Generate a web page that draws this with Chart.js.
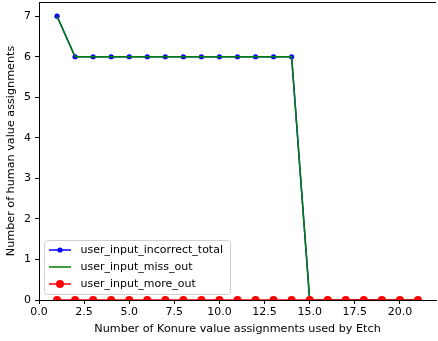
<!DOCTYPE html>
<html>
<head>
<meta charset="utf-8">
<script src="https://cdn.jsdelivr.net/npm/chart.js@4/dist/chart.umd.min.js"></script>
<style>
  html, body { margin: 0; padding: 0; background: #fff; overflow: hidden; }
  #wrap { width: 440px; height: 343px; margin-top: -2px; position: relative; }
</style>
</head>
<body>
<div id="wrap"><canvas id="c"></canvas></div>
<script>
// Number of Konure value assignments used by Etch
const etchCounts = [1, 2, 3, 4, 5, 6, 7, 8, 9, 10, 11, 12, 13, 14, 15, 16, 17, 18, 19, 20, 21];
// Number of human value assignments per category
const incorrectTotal = [7, 6, 6, 6, 6, 6, 6, 6, 6, 6, 6, 6, 6, 6, 0, 0, 0, 0, 0, 0, 0];
const missOut        = [7, 6, 6, 6, 6, 6, 6, 6, 6, 6, 6, 6, 6, 6, 0, 0, 0, 0, 0, 0, 0];
const moreOut        = [0, 0, 0, 0, 0, 0, 0, 0, 0, 0, 0, 0, 0, 0, 0, 0, 0, 0, 0, 0, 0];
const xTickValues = [0, 2.5, 5, 7.5, 10, 12.5, 15, 17.5, 20];
const yTickValues = [0, 1, 2, 3, 4, 5, 6, 7];

const FONT = "'DejaVu Sans', sans-serif";
const toPoints = (ys) => etchCounts.map((x, i) => ({ x: x, y: ys[i] }));

// Top spine and the in-plot legend box
const frameAndLegend = {
  id: 'frameAndLegend',
  afterDraw(chart) {
    const ctx = chart.ctx;
    const a = chart.chartArea;
    ctx.save();
    ctx.strokeStyle = '#000';
    ctx.lineWidth = 1;
    ctx.beginPath();
    ctx.moveTo(a.left, Math.round(a.top) + 0.5);
    ctx.lineTo(a.right, Math.round(a.top) + 0.5);
    ctx.stroke();

    // legend (canvas is shifted up by 2px inside the page)
    const bx = 44.5, by = 242.5, bw = 186, bh = 54, r = 3;
    ctx.fillStyle = 'rgba(255,255,255,0.8)';
    ctx.strokeStyle = '#d0d0d0';
    ctx.beginPath();
    ctx.moveTo(bx + r, by);
    ctx.lineTo(bx + bw - r, by);
    ctx.arcTo(bx + bw, by, bx + bw, by + r, r);
    ctx.lineTo(bx + bw, by + bh - r);
    ctx.arcTo(bx + bw, by + bh, bx + bw - r, by + bh, r);
    ctx.lineTo(bx + r, by + bh);
    ctx.arcTo(bx, by + bh, bx, by + bh - r, r);
    ctx.lineTo(bx, by + r);
    ctx.arcTo(bx, by, bx + r, by, r);
    ctx.closePath();
    ctx.fill();
    ctx.stroke();

    const rows = [252, 269, 286];
    chart.data.datasets.forEach((ds, i) => {
      const y = rows[i];
      ctx.strokeStyle = ds.borderColor;
      ctx.lineWidth = 1.5;
      ctx.beginPath();
      ctx.moveTo(49, y);
      ctx.lineTo(71, y);
      ctx.stroke();
      if (ds.pointRadius > 0) {
        ctx.fillStyle = ds.pointBackgroundColor;
        ctx.beginPath();
        ctx.arc(60, y, ds.pointRadius, 0, Math.PI * 2);
        ctx.fill();
      }
      ctx.fillStyle = '#000';
      ctx.font = '11px ' + FONT;
      ctx.textBaseline = 'middle';
      ctx.textAlign = 'left';
      ctx.fillText(ds.label, 80.5, y);
    });
    ctx.restore();
  }
};

new Chart(document.getElementById('c'), {
  type: 'line',
  data: {
    datasets: [
      {
        label: 'user_input_incorrect_total',
        data: toPoints(incorrectTotal),
        borderColor: '#0000ff',
        backgroundColor: '#0000ff',
        pointBackgroundColor: '#0000ff',
        pointBorderWidth: 0,
        pointRadius: 2.6,
        borderWidth: 1.5,
        tension: 0,
        order: 3
      },
      {
        label: 'user_input_miss_out',
        data: toPoints(missOut),
        borderColor: '#008000',
        backgroundColor: '#008000',
        pointBackgroundColor: '#008000',
        pointRadius: 0,
        borderWidth: 1.5,
        tension: 0,
        order: 2
      },
      {
        label: 'user_input_more_out',
        data: toPoints(moreOut),
        borderColor: '#ff0000',
        backgroundColor: '#ff0000',
        pointBackgroundColor: '#ff0000',
        pointBorderWidth: 0,
        pointRadius: 4,
        borderWidth: 1.5,
        tension: 0,
        order: 1
      }
    ]
  },
  options: {
    responsive: true,
    maintainAspectRatio: false,
    animation: false,
    devicePixelRatio: 1,
    layout: { padding: { top: 1, right: 0, left: 0, bottom: 0 } },
    plugins: { legend: { display: false }, tooltip: { enabled: false } },
    elements: { point: { hoverRadius: 0 } },
    scales: {
      x: {
        type: 'linear',
        min: 0,
        max: 22,
        afterBuildTicks(scale) { scale.ticks = xTickValues.map(v => ({ value: v })); },
        afterFit(scale) { scale.height = 41; scale.paddingLeft = 0; scale.paddingRight = 0; },
        border: { display: true, color: '#000', width: 1 },
        grid: { drawOnChartArea: false, drawTicks: true, tickLength: 4, color: '#000' },
        ticks: {
          autoSkip: false,
          maxRotation: 0,
          padding: 2,
          color: '#000',
          font: { family: FONT, size: 11 },
          callback: (v) => Number(v).toFixed(1)
        },
        title: {
          display: true,
          text: 'Number of Konure value assignments used by Etch',
          color: '#000',
          font: { family: FONT, size: 11.2 },
          padding: { top: 1, bottom: 5 }
        }
      },
      y: {
        type: 'linear',
        min: 0,
        max: 7.35,
        afterBuildTicks(scale) { scale.ticks = yTickValues.map(v => ({ value: v })); },
        afterFit(scale) { scale.width = 39; scale.paddingTop = 0; scale.paddingBottom = 0; },
        border: { display: true, color: '#000', width: 1 },
        grid: { drawOnChartArea: false, drawTicks: true, tickLength: 4, color: '#000' },
        ticks: {
          autoSkip: false,
          padding: 4,
          color: '#000',
          font: { family: FONT, size: 11 },
          callback: (v) => String(v)
        },
        title: {
          display: true,
          text: 'Number of human value assignments',
          color: '#000',
          font: { family: FONT, size: 11.2 },
          padding: { top: 4.5, bottom: 0 }
        }
      }
    }
  },
  plugins: [frameAndLegend]
});
</script>
</body>
</html>
